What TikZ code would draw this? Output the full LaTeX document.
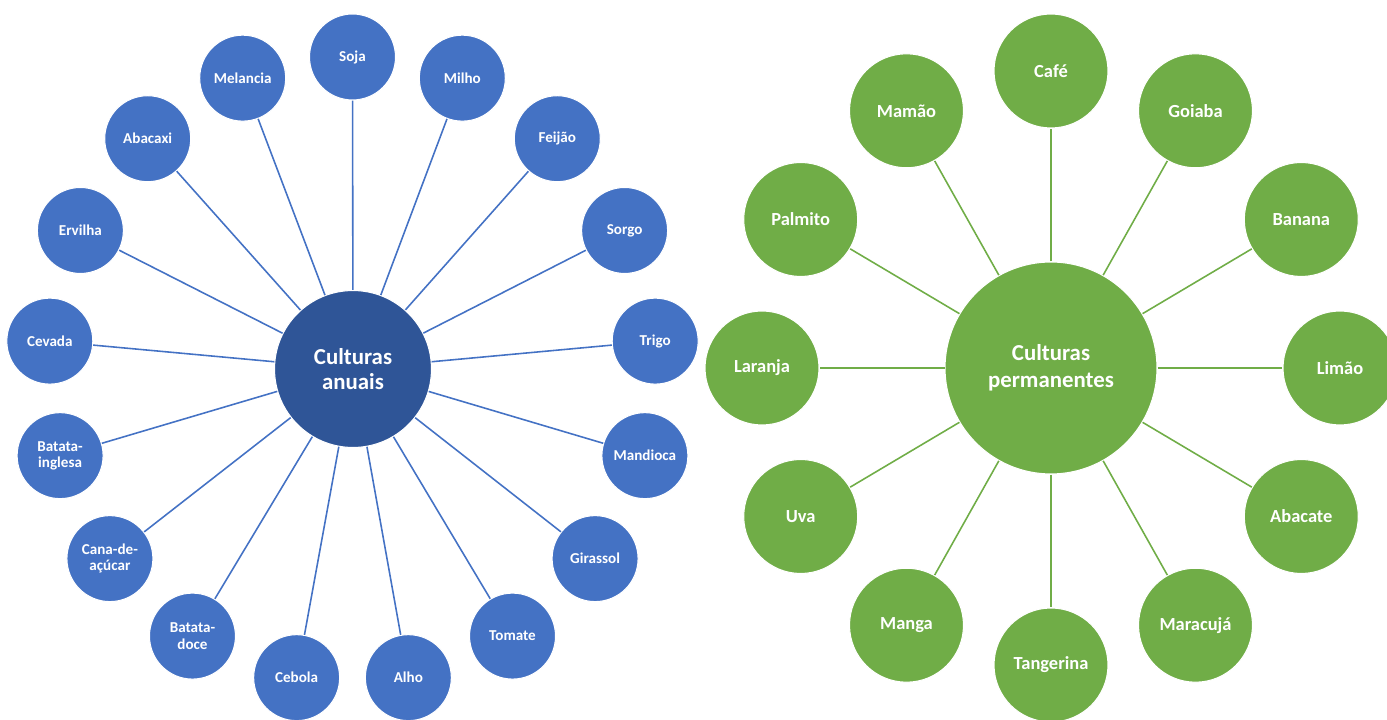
\documentclass[tikz,border=0pt]{standalone}
\usepackage{fontspec}
\setmainfont{Carlito}
\usepackage{tikz}
\usetikzlibrary{calc,positioning}
\usepackage{xcolor}
\definecolor{anualblue}{HTML}{4472C4}
\definecolor{anualdark}{HTML}{2F5597}
\definecolor{permgreen}{HTML}{70AD47}

\begin{document}
\begin{tikzpicture}[x=0.02cm,y=0.02cm,
  anual/.style={circle,fill=anualblue,draw=white,line width=0.6pt,text=white,
    minimum size=1.72cm,inner sep=0pt,align=center,font=\fontsize{8.6}{9.2}\selectfont\bfseries},
  anualhub/.style={circle,fill=anualdark,draw=white,line width=0.6pt,text=white,
    minimum size=3.14cm,inner sep=0pt,align=center,font=\fontsize{13}{14.5}\selectfont\bfseries},
  perm/.style={circle,fill=permgreen,draw=white,line width=0.6pt,text=white,
    minimum size=2.28cm,inner sep=0pt,align=center,font=\fontsize{10.5}{12}\selectfont\bfseries},
  permhub/.style={circle,fill=permgreen,draw=white,line width=0.6pt,text=white,
    minimum size=4.24cm,inner sep=0pt,align=center,font=\fontsize{13}{15.2}\selectfont\bfseries},
  ray/.style={line width=0.9pt}]
  \useasboundingbox (0,0) rectangle (1387,720);
  % Culturas anuais
  \coordinate (LC) at (352.5,350);
  \node[anualhub] (anuais) at (353,351) {Culturas\\anuais};
  \foreach \name [count=\i from 0] in {Soja,Milho,Feij\~ao,Sorgo,Trigo,Mandioca,Girassol,Tomate,Alho,Cebola,{Batata-\\doce},{Cana-de-\\a\c{c}\'ucar},{Batata-\\inglesa},Cevada,Ervilha,Abacaxi,Melancia}{
    \node[anual] (a\i) at ($(LC)+({90-\i*360/17}:304 and 313)$) {\name};
    \draw[ray,anualblue] (anuais) -- (a\i);
  }
  % Culturas permanentes
  \coordinate (RC) at (1051,352);
  \node[permhub] (perms) at (RC) {Culturas\\permanentes};
  \foreach \name [count=\i from 0] in {Caf\'e,Goiaba,Banana,Lim\~ao,Abacate,Maracuj\'a,Tangerina,Manga,Uva,Laranja,Palmito,Mam\~ao}{
    \node[perm] (p\i) at ($(RC)+({90-\i*30}:289 and 297)$) {\name};
    \draw[ray,permgreen] (perms) -- (p\i);
  }
\end{tikzpicture}
\end{document}
